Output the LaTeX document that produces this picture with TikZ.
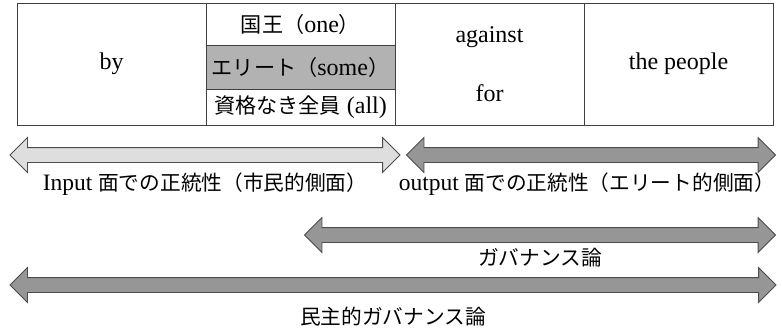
\documentclass[tikz,border=0pt]{standalone}
\usepackage{fontspec}
\setmainfont{Liberation Serif}
\newfontfamily\jp[Scale=0.88]{Noto Sans CJK JP}
\usetikzlibrary{shapes.arrows,positioning}
\definecolor{lightarrow}{RGB}{222,222,222}
\definecolor{darkarrow}{RGB}{150,150,150}
\definecolor{elitefill}{RGB}{178,178,178}

\begin{document}
\begin{tikzpicture}[x=1pt,y=-1pt,
  cell/.style={draw=black!75, line width=0.9pt, minimum width=189pt,
    inner sep=0pt, outer sep=0pt, font=\fontsize{24}{28}\selectfont},
  celltext/.style={inner sep=0pt, font=\fontsize{24}{28}\selectfont},
  twoway/.style={double arrow, draw=black!70, line width=0.8pt,
    inner sep=0pt, inner ysep=7pt, outer sep=0pt,
    double arrow head extend=10pt, double arrow head indent=0pt},
  arrowtext/.style={inner sep=0pt, font=\fontsize{23.5}{28}\selectfont}]
  \useasboundingbox (0,0) rectangle (782,327);
  % table
  \node[cell, minimum height=122pt, anchor=north west] (by) at (17,3) {by};
  \node[cell, minimum height=42pt, anchor=north west] (one) at (by.north east)
    {{\jp 国王（}one{\jp ）}};
  \node[cell, minimum height=44pt, anchor=north west, fill=elitefill] (some) at (one.south west)
    {{\jp エリート（}some{\jp ）}};
  \node[cell, minimum height=36pt, anchor=north west] (all) at (some.south west)
    {{\jp 資格なき全員} (all)};
  \node[cell, minimum height=122pt, anchor=north west] (aims) at (one.north east) {};
  \node[celltext] (against) at ([yshift=-34pt]aims.north) {against};
  \node[celltext] (for) at ([yshift=-90pt]aims.north) {for};
  \node[cell, minimum height=122pt, anchor=north west] (people) at (aims.north east) {the people};
  % arrows
  \node[twoway, fill=lightarrow, minimum height=390pt] (input) at (205,155) {};
  \node[twoway, fill=darkarrow, minimum height=369pt] (output) at (591,155) {};
  \node[twoway, fill=darkarrow, minimum height=471pt] (gov) at (540,235) {};
  \node[twoway, fill=darkarrow, minimum height=766pt] (demgov) at (393,285) {};
  \node[arrowtext, below=10pt of input] (inputtext) {Input {\jp 面での正統性（市民的側面）}};
  \node[arrowtext, below=10pt of output, xshift=-4pt] (outputtext) {output {\jp 面での正統性（エリート的側面）}};
  \node[arrowtext, below=6pt of gov] (govtext) {\jp ガバナンス論};
  \node[arrowtext, below=14pt of demgov] (demgovtext) {\jp 民主的ガバナンス論};
\end{tikzpicture}
\end{document}
